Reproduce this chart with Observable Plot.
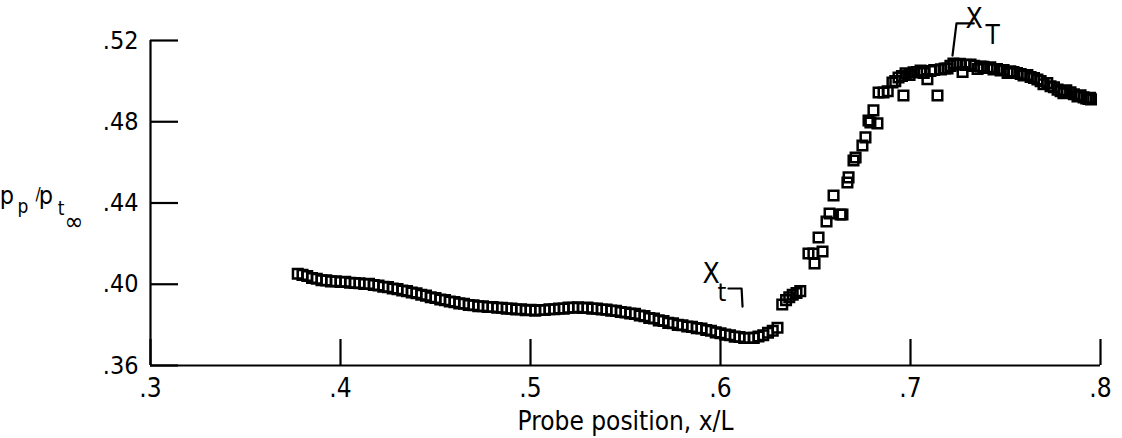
<!DOCTYPE html>
<html>
<head>
<meta charset="utf-8">
<script src="https://cdn.jsdelivr.net/npm/d3@7"></script>
<script src="https://cdn.jsdelivr.net/npm/@observablehq/plot@0.6"></script>
<style>
  html, body { margin: 0; padding: 0; background: white; }
  #chart svg { display: block; }
</style>
</head>
<body>
<div id="chart"></div>
<script>
// Probe position x/L
const xPos = [
  .3775,.3800,.3825,.3850,.3875,.3900,.3925,.3950,.3975,.4000,
  .4025,.4050,.4075,.4100,.4125,.4150,.4175,.4200,.4225,.4250,
  .4275,.4300,.4325,.4350,.4375,.4400,.4425,.4450,.4475,.4500,
  .4525,.4550,.4575,.4600,.4625,.4650,.4675,.4700,.4725,.4750,
  .4775,.4800,.4825,.4850,.4875,.4900,.4925,.4950,.4975,.5000,
  .5025,.5050,.5075,.5100,.5125,.5150,.5175,.5200,.5225,.5250,
  .5275,.5300,.5325,.5350,.5375,.5400,.5425,.5450,.5475,.5500,
  .5525,.5550,.5575,.5600,.5625,.5650,.5675,.5700,.5725,.5750,
  .5775,.5800,.5825,.5850,.5875,.5900,.5925,.5950,.5975,.6000,
  .6025,.6050,.6075,.6100,.6125,.6150,.6175,.6200,.6225,.6250,
  .6275,.6300,
  .6325,.6345,.6362,.6380,.6400,.6420,
  .6463,.6489,.6495,.6516,.6537,.6558,.6574,.6595,.6632,.6642,
  .6668,.6674,.6700,.6711,.6747,.6763,.6779,.6789,.6805,.6826,
  .6832,.6858,.6880,.6905,.6920,.6937,.6955,.6963,.6974,.6995,
  .7016,.7035,.7053,.7070,.7089,.7105,.7125,.7142,.7160,.7180,
  .7195,.7210,.7226,.7245,.7260,.7274,.7290,.7316,.7335,.7353,
  .7370,.7384,.7405,.7420,.7437,.7455,.7474,.7490,.7511,.7525,
  .7542,.7560,.7580,.7595,.7615,.7632,.7650,.7668,.7685,.7700,
  .7720,.7737,.7755,.7774,.7790,.7805,.7820,.7842,.7860,.7879,
  .7895,.7911,.7925,.7937,.7945,.7950
];
// Pressure ratio p_p / p_t,inf
const pRatio = [
  .4052,.4046,.4041,.4031,.4027,.4020,.4019,.4014,.4015,.4011,
  .4012,.4007,.4006,.4005,.4001,.4002,.3996,.3994,.3988,.3986,
  .3979,.3976,.3969,.3966,.3959,.3956,.3948,.3944,.3936,.3932,
  .3925,.3922,.3915,.3912,.3906,.3904,.3898,.3897,.3892,.3892,
  .3888,.3888,.3884,.3884,.3880,.3880,.3876,.3877,.3872,.3874,
  .3870,.3873,.3873,.3877,.3877,.3881,.3880,.3885,.3884,.3887,
  .3883,.3885,.3880,.3880,.3876,.3875,.3870,.3869,.3863,.3861,
  .3856,.3854,.3846,.3843,.3834,.3831,.3822,.3819,.3810,.3808,
  .3800,.3798,.3792,.3790,.3784,.3782,.3775,.3771,.3763,.3759,
  .3752,.3749,.3742,.3740,.3735,.3736,.3736,.3743,.3749,.3761,
  .3771,.3786,
  .3900,.3922,.3936,.3948,.3957,.3966,
  .4151,.4151,.4102,.4230,.4161,.4309,.4348,.4437,.4343,.4343,
  .4501,.4526,.4609,.4624,.4683,.4723,.4806,.4796,.4856,.4792,
  .4944,.4944,.4950,.4993,.5000,.5018,.5025,.4929,.5038,.5030,
  .5043,.5045,.5052,.5040,.5010,.5050,.5055,.4929,.5058,.5062,
  .5062,.5075,.5087,.5082,.5085,.5045,.5080,.5082,.5075,.5060,
  .5072,.5070,.5065,.5068,.5058,.5060,.5052,.5055,.5040,.5048,
  .5045,.5040,.5035,.5028,.5030,.5020,.5015,.5008,.5000,.4985,
  .4990,.4975,.4970,.4958,.4950,.4940,.4955,.4945,.4935,.4925,
  .4930,.4920,.4915,.4912,.4918,.4910
];
const xTicks = [.3, .4, .5, .6, .7, .8];
const yTicks = [.36, .40, .44, .48, .52];
const xLabel = "Probe position, x/L";

// Annotations (data space)
const annotLabels = [
  {text: "X", x: .5905, y: .4004, size: 28},
  {text: "t", x: .5984, y: .3920, size: 25},
  {text: "X", x: .7289, y: .5262, size: 28},
  {text: "T", x: .7395, y: .5182, size: 26}
];
const leaderSmall = [{x: .6042, y: .3979}, {x: .6111, y: .3979}, {x: .6116, y: .3890}];
const leaderBig = [{x: .7221, y: .5126}, {x: .7242, y: .5284}, {x: .7333, y: .5284}];

const data = xPos.map((x, i) => ({x, p: pRatio[i]}));
const fmt = n => d => d.toFixed(n).replace(/^0/, "");
const FONT = '"DejaVu Sans Condensed", "DejaVu Sans", sans-serif';

const chart = Plot.plot({
  width: 1122,
  height: 438,
  marginLeft: 150,
  marginRight: 22,
  marginTop: 40,
  marginBottom: 73,
  style: {fontFamily: FONT, fontSize: "24px", background: "white", color: "black", fontStretch: "condensed"},
  x: {domain: [.3, .8]},
  y: {domain: [.36, .52]},
  marks: [
    Plot.ruleX([.3], {strokeWidth: 2.2}),
    Plot.ruleY([.36], {strokeWidth: 2.2}),
    Plot.axisY({ticks: yTicks, tickSize: -28, strokeWidth: 2.2, tickFormat: () => "", label: null}),
    Plot.axisY({ticks: yTicks, tickSize: 0, tickPadding: 12, tickFormat: fmt(2), label: null, fontSize: 25}),
    Plot.axisX({ticks: xTicks, tickSize: -26, strokeWidth: 2.2, tickFormat: () => "", label: null}),
    Plot.axisX({ticks: xTicks, tickSize: 0, tickPadding: 13, tickFormat: fmt(1), label: null, fontSize: 26}),
    Plot.text([xLabel], {frameAnchor: "bottom", dy: 64, lineAnchor: "bottom", fontSize: 26, fill: "black"}),
    Plot.dot(data, {x: "x", y: "p", symbol: "square", r: 5.4, stroke: "black", strokeWidth: 2.5, fill: "none"}),
    Plot.line(leaderSmall, {x: "x", y: "y", stroke: "black", strokeWidth: 2.2}),
    Plot.line(leaderBig, {x: "x", y: "y", stroke: "black", strokeWidth: 2.2}),
    Plot.text(annotLabels, {x: "x", y: "y", text: "text", fontSize: d => d.size, textAnchor: "start", lineAnchor: "bottom", fill: "black"})
  ]
});

// y-axis label p_p / p_t∞ with subscripts
const svg = d3.select(chart);
const ylab = [
  {t: "p", x: 7, y: 204, s: 25},
  {t: "p", x: 23, y: 213, s: 19},
  {t: "/", x: 38, y: 200, s: 17},
  {t: "p", x: 46, y: 204, s: 25},
  {t: "t", x: 61, y: 215, s: 19},
  {t: "\u221E", x: 74, y: 230, s: 25}
];
svg.append("g")
  .attr("font-family", FONT)
  .selectAll("text").data(ylab).join("text")
  .attr("x", d => d.x).attr("y", d => d.y)
  .attr("font-size", d => d.s)
  .attr("fill", "black")
  .text(d => d.t);

document.getElementById("chart").append(chart);
</script>
</body>
</html>
